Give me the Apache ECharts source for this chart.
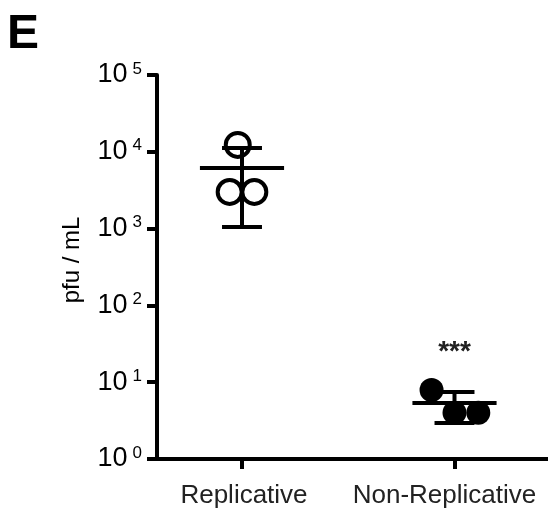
<!DOCTYPE html>
<html><head><meta charset="utf-8">
<script src="https://cdn.jsdelivr.net/npm/echarts@6/dist/echarts.min.js"></script>
<style>html,body{margin:0;padding:0;background:#fff}#c{width:548px;height:518px}</style>
</head><body><div id="c"></div>
<script>
// ---- data ----
const categories = ['Replicative', 'Non-Replicative'];
const categoryPos = [2, 7];
const replicativeValues = [12300, 3000, 3000];
const replicativeJitter = [-0.1, -0.29, 0.29];
const nonReplicativeValues = [7.9, 4.0, 4.0];
const nonReplicativeJitter = [-0.54, 0, 0.56];
const groupMeans = [6160, 5.36];
const groupUpper = [11200, 7.45];
const groupLower = [1050, 2.94];
const significance = ['', '***'];

const FONT = 'Liberation Sans, Arial, Helvetica, sans-serif';

const repPoints = replicativeValues.map((v, i) => [categoryPos[0] + replicativeJitter[i], v]);
const nonRepPoints = nonReplicativeValues.map((v, i) => [categoryPos[1] + nonReplicativeJitter[i], v]);
const errData = categories.map((c, i) => [categoryPos[i], groupMeans[i], groupLower[i], groupUpper[i]]);
const sigData = categories.map((c, i) => [categoryPos[i], groupUpper[i], significance[i]]);

const chart = echarts.init(document.getElementById('c'));
chart.setOption({
  animation: false,
  backgroundColor: '#fff',
  grid: { left: 157, right: 0, top: 75, bottom: 59 },
  graphic: [{
    type: 'text', left: 7, top: 11,
    style: { text: 'E', font: 'bold 48px ' + FONT, fill: '#000' }
  }],
  xAxis: {
    type: 'value', min: 0, max: 9.2,
    axisLine: { lineStyle: { color: '#000', width: 4 } },
    splitLine: { show: false },
    axisTick: { show: true, customValues: categoryPos, length: 10, lineStyle: { color: '#000', width: 4 } },
    axisLabel: {
      customValues: categoryPos, margin: 24, fontFamily: FONT, color: '#222',
      formatter: v => {
        const i = categoryPos.indexOf(Math.round(v));
        return i < 0 ? '' : '{c' + i + '|' + categories[i] + '}';
      },
      rich: {
        c0: { fontSize: 26, fontFamily: FONT, color: '#222', padding: [0, 0, 0, 4] },
        c1: { fontSize: 26, fontFamily: FONT, color: '#222', padding: [0, 20, 0, 0] }
      }
    }
  },
  yAxis: {
    type: 'log', logBase: 10, min: 1, max: 100000,
    name: 'pfu / mL', nameLocation: 'middle', nameGap: 73, nameRotate: 90,
    nameTextStyle: { fontSize: 24, fontFamily: FONT, color: '#000', padding: [0, 0, 0, 14] },
    axisLine: { show: true, lineStyle: { color: '#000', width: 4 } },
    splitLine: { show: false },
    axisTick: { show: true, length: 10, lineStyle: { color: '#000', width: 4 } },
    axisLabel: {
      margin: 15, fontFamily: FONT, color: '#000',
      formatter: v => '{b|10}{s|' + Math.round(Math.log10(v)) + '}',
      rich: {
        b: { fontSize: 27, fontFamily: FONT, color: '#000' },
        s: { fontSize: 17, fontFamily: FONT, color: '#000', verticalAlign: 'top', padding: [0, 0, 12, 5] }
      }
    }
  },
  series: [
    {
      type: 'scatter', data: repPoints, symbol: 'circle', symbolSize: 24, z: 3,
      itemStyle: { color: 'rgba(255,255,255,0)', borderColor: '#000', borderWidth: 4, opacity: 1 }
    },
    {
      type: 'scatter', data: nonRepPoints, symbol: 'circle', symbolSize: 24, z: 3,
      itemStyle: { color: '#000', opacity: 1 }
    },
    {
      type: 'custom', data: errData, z: 4,
      renderItem: (params, api) => {
        const x = api.value(0), m = api.value(1), lo = api.value(2), hi = api.value(3);
        const meanHalf = 0.99, capHalf = 0.47;
        const pm1 = api.coord([x - meanHalf, m]), pm2 = api.coord([x + meanHalf, m]);
        const pl = api.coord([x, lo]), ph = api.coord([x, hi]);
        const cl1 = api.coord([x - capHalf, lo]), cl2 = api.coord([x + capHalf, lo]);
        const ch1 = api.coord([x - capHalf, hi]), ch2 = api.coord([x + capHalf, hi]);
        const st = { stroke: '#000', lineWidth: 4 };
        return { type: 'group', children: [
          { type: 'line', shape: { x1: pl[0], y1: pl[1], x2: ph[0], y2: ph[1] }, style: st },
          { type: 'line', shape: { x1: pm1[0], y1: pm1[1], x2: pm2[0], y2: pm2[1] }, style: st },
          { type: 'line', shape: { x1: cl1[0], y1: cl1[1], x2: cl2[0], y2: cl2[1] }, style: st },
          { type: 'line', shape: { x1: ch1[0], y1: ch1[1], x2: ch2[0], y2: ch2[1] }, style: st }
        ]};
      }
    },
    {
      type: 'custom', data: sigData, z: 5,
      renderItem: (params, api) => {
        const p = api.coord([api.value(0), api.value(1)]);
        return { type: 'text', x: p[0], y: p[1] - 40,
          style: { text: sigData[params.dataIndex][2], font: 'bold 28px ' + FONT, fill: '#222', align: 'center', verticalAlign: 'middle' } };
      }
    }
  ]
});
</script></body></html>
